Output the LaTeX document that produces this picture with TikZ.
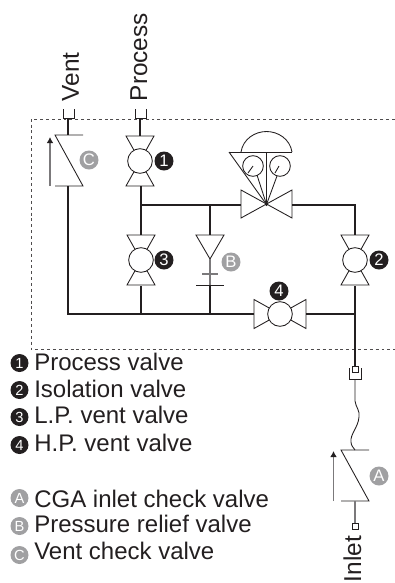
\documentclass[tikz,border=0pt]{standalone}
\usepackage{fontspec}
\usetikzlibrary{arrows.meta}
\setmainfont{Liberation Sans}
\definecolor{ink}{HTML}{231F20}
\definecolor{mid}{HTML}{A0A0A2}
\tikzset{
  x=0.75pt,y=-0.75pt,
  pipe/.style={draw=ink,line width=1.5pt},
  thin line/.style={draw=ink,line width=0.65pt},
  greyline/.style={draw=mid!70!ink,line width=1pt},
  arrowline/.style={greyline,-{Latex[length=4.5pt,width=5pt,color=ink]}},
  frame/.style={draw=ink!80,line width=0.75pt,dash pattern=on 2.2pt off 2.2pt},
  label text/.style={font=\fontsize{18}{18}\selectfont,text=ink,inner sep=0pt,anchor=base west},
  vlabel/.style={font=\fontsize{18.3}{18}\selectfont,text=ink,inner sep=0pt,rotate=90,anchor=base west},
  bk/.style={circle,fill=ink,text=white,minimum size=14.25pt,inner sep=0pt,font=\fontsize{12.5}{12.5}\selectfont},
  gy/.style={circle,fill=mid,text=white,minimum size=14.25pt,inner sep=0pt,font=\fontsize{12.5}{12.5}\selectfont},
  sbk/.style={circle,fill=ink,text=white,minimum size=13.5pt,inner sep=0pt,font=\fontsize{11}{11}\selectfont},
  sgy/.style={circle,fill=mid,text=white,minimum size=13.5pt,inner sep=0pt,font=\fontsize{11}{11}\selectfont},
  circ/.style={circle,draw=ink,line width=0.65pt,fill=white,inner sep=0pt,minimum size=18.5pt},
}
\newcommand{\vvalve}[2]{% x, centre y
  \draw[thin line] (#1-14,#2-25) -- (#1+14,#2-25) -- (#1-14,#2+25) -- (#1+14,#2+25) -- cycle;
  \node[circ] (circ#1) at (#1,#2) {};
}
\begin{document}
\begin{tikzpicture}
\useasboundingbox (0,0) rectangle (395,583);
% frame
\draw[frame] (395,119) -- (31,119) -- (31,349) -- (395,349);
% pipes
\draw[pipe] (68,118) -- (68,135);
\draw[pipe] (68,186) -- (68,314) -- (254,314);
\draw[pipe] (306,314) -- (355,314);
\draw[pipe] (140,118) -- (140,136);
\draw[pipe] (141,186) -- (141,235);
\draw[pipe] (141,204.5) -- (241,204.5);
\draw[pipe] (141,286) -- (141,314);
\draw[pipe] (210,204.5) -- (210,235);
\draw[pipe] (210,285) -- (210,314);
\draw[pipe] (292,204.5) -- (355,204.5) -- (355,235);
\draw[pipe] (355,286) -- (355,367);
% couplings
\draw[thin line] (63,109) -- (63,118) -- (74,118) -- (74,109);
\draw[thin line] (135,109) -- (135,118) -- (146,118) -- (146,109);
% check valve C
\draw[thin line] (83,135) -- (55,135) -- (83,186) -- (55,186);
\draw[arrowline] (50,186) -- (50,137);
% valves
\vvalve{140}{161}
\vvalve{141}{260}
\vvalve{355}{260}
% valve 4
\draw[thin line] (254,299.5) -- (254,328.5) -- (306,299.5) -- (306,328.5) -- cycle;
\node[circ] (c4) at (280,314) {};
% relief B
\draw[thin line] (196,235) -- (224,235) -- (210,259) -- cycle;
\draw[greyline] (210,259) -- (210,285);
\draw[greyline] (202,274) -- (218,274);
\draw[thin line] (196,285) -- (224,285);
% main valve + actuator
\draw[thin line] (241,190) -- (241,218) -- (292,190) -- (292,218) -- cycle;
\draw[thin line] (229,152) -- (292,152);
\draw[thin line] (241,152) .. controls (243,139) and (255,131.5) .. (266.5,131.5) .. controls (278,131.5) and (290,139) .. (292,152);
\draw[thin line] (229,152) -- (266.5,204.5) -- (266.5,152);
\node[circ,minimum size=15.5pt] (g1) at (253,166) {};
\node[circ,minimum size=15.5pt] (g2) at (280,166) {};
\draw[thin line] (248,173) -- (253,166);
\draw[thin line] (275,173) -- (279,166);
\draw[thin line] (257,175) -- (266.5,204.5) -- (277,176);
\fill[ink] (266.5,204.5) circle (1.5);
% inlet
\draw[thin line] (349,368) -- (349,379) -- (361,379) -- (361,368);
\draw[thin line,fill=white] (352,366) rectangle (358,372);
\draw[thin line] (355,379) -- (355,401) .. controls (356,408) and (360,410) .. (359,417) .. controls (358,428) and (350,434) .. (351,442) .. controls (351,446) and (354,448) .. (355,450);
\draw[thin line] (369,450) -- (341,450) -- (369,501) -- (341,501);
\draw[arrowline] (333.5,501) -- (333.5,451);
\draw[greyline] (355,501) -- (355,523);
\draw[thin line,fill=white] (352.5,523) rectangle (358,529);
% badges
\node[bk] (b1) at (164,161) {1};
\node[bk] (b2) at (379,260) {2};
\node[bk] (b3) at (164,260) {3};
\node[bk] (b4) at (279,291) {4};
\node[gy] (bA) at (379,476) {A};
\node[gy] (bB) at (231,262) {B};
\node[gy] (bC) at (89,160) {C};
% rotated labels
\node[vlabel] (tVent) at (79,101.5) {Vent};
\node[vlabel] (tProc) at (147,101.5) {Process};
\node[vlabel] (tInlet) at (361,582.5) {Inlet};
% legend
\node[sbk] (l1) at (19.5,363) {1};
\node[sbk] (l2) at (19.5,390) {2};
\node[sbk] (l3) at (19.5,417) {3};
\node[sbk] (l4) at (19.5,445) {4};
\node[sgy] (lA) at (19.5,498) {A};
\node[sgy] (lB) at (19.5,526) {B};
\node[sgy] (lC) at (19.5,555) {C};
\node[label text] (t1) at (34,370) {Process valve};
\node[label text] (t2) at (34,397) {Isolation valve};
\node[label text] (t3) at (34,423) {L.P. vent valve};
\node[label text] (t4) at (34,451) {H.P. vent valve};
\node[label text] (tA) at (34,507) {CGA inlet check valve};
\node[label text] (tB) at (34,532) {Pressure relief valve};
\node[label text] (tC) at (34,559) {Vent check valve};
\end{tikzpicture}
\end{document}
